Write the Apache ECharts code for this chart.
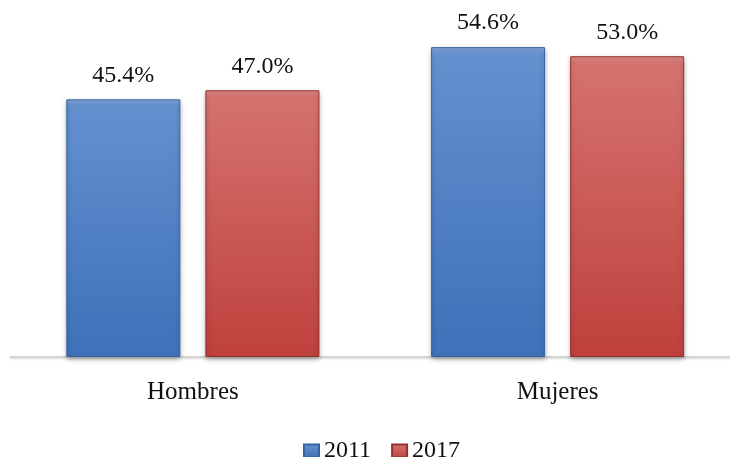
<!DOCTYPE html>
<html>
<head>
<meta charset="utf-8">
<script src="https://cdn.jsdelivr.net/npm/echarts@6/dist/echarts.min.js"></script>
<style>
  html, body { margin: 0; padding: 0; background: #ffffff; overflow: hidden; }
  /* canvas runs slightly past the right edge so the last category band is full width */
  #chart { width: 740px; height: 457px; }
</style>
</head>
<body>
<div id="chart"></div>
<script>
// Share by sex, two survey years
const categories = ['Hombres', 'Mujeres'];
const seriesNames = ['2011', '2017'];
const values2011 = [45.4, 54.6];
const values2017 = [47.0, 53.0];

const FONT = '"Liberation Serif", "Times New Roman", serif';

// vertical fill with a lighter bevel strip along the top edge
function bevelFill(bevel, top, bottom) {
  return new echarts.graphic.LinearGradient(0, 0, 0, 1, [
    { offset: 0, color: bevel },
    { offset: 0.028, color: top },
    { offset: 0.97, color: bottom },
    { offset: 1, color: bottom }
  ]);
}

const blueStyle = {
  color: bevelFill('#84a8dc', '#6390cf', '#3f72ba'),
  borderColor: '#36629f',
  borderWidth: 1,
  shadowColor: 'rgba(0,0,0,0.35)',
  shadowBlur: 5,
  shadowOffsetY: 2
};
const redStyle = {
  color: bevelFill('#e08c89', '#d5726e', '#bf423e'),
  borderColor: '#97302d',
  borderWidth: 1,
  shadowColor: 'rgba(0,0,0,0.35)',
  shadowBlur: 5,
  shadowOffsetY: 2
};

const labelStyle = {
  show: true,
  position: 'top',
  distance: 12,
  color: '#111',
  fontFamily: FONT,
  fontSize: 24,
  formatter: p => p.value.toFixed(1) + '%'
};

const chart = echarts.init(document.getElementById('chart'));
chart.setOption({
  animation: false,
  grid: { left: 10.5, right: 0, top: 16.5, bottom: 100, containLabel: false },
  legend: {
    data: seriesNames,
    top: 434,
    left: 298,
    icon: 'rect',
    itemWidth: 15,
    itemHeight: 13,
    itemGap: 20,
    textStyle: { fontFamily: FONT, fontSize: 24, color: '#111' }
  },
  xAxis: {
    type: 'category',
    data: categories,
    axisLine: { lineStyle: { color: '#d4d4d4', width: 2, shadowColor: 'rgba(0,0,0,0.15)', shadowBlur: 2, shadowOffsetY: 1 } },
    axisTick: { show: false },
    axisLabel: { margin: 23, color: '#111', fontFamily: FONT, fontSize: 25 }
  },
  yAxis: {
    type: 'value',
    min: 0,
    max: 60,
    show: false,
    splitLine: { show: false }
  },
  series: [
    {
      name: seriesNames[0],
      type: 'bar',
      data: values2011,
      barWidth: 114,
      barGap: '22%',
      itemStyle: blueStyle,
      label: labelStyle
    },
    {
      name: seriesNames[1],
      type: 'bar',
      data: values2017,
      barWidth: 114,
      barGap: '22%',
      itemStyle: redStyle,
      label: labelStyle
    }
  ]
});
</script>
</body>
</html>
